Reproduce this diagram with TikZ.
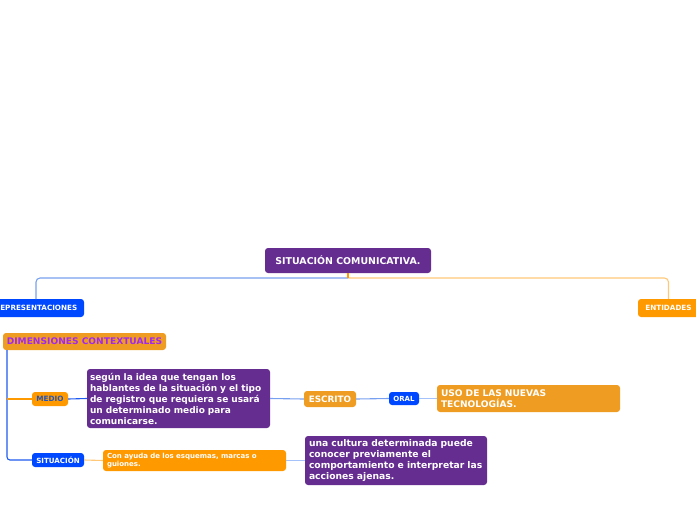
\documentclass[tikz,border=0pt]{standalone}
\usepackage{fontspec}
\setmainfont{DejaVu Sans}
\definecolor{cpurple}{RGB}{102,45,145}
\definecolor{corangeA}{RGB}{238,157,34}
\definecolor{corangeB}{RGB}{255,153,0}
\definecolor{cblue}{RGB}{0,72,255}
\definecolor{cdimtext}{RGB}{160,40,240}
\definecolor{cmediotext}{RGB}{34,85,187}
\definecolor{lblue}{RGB}{120,160,240}
\definecolor{sblue}{RGB}{30,90,240}
\definecolor{xlblue}{RGB}{165,195,250}
\definecolor{lorange}{RGB}{255,200,120}
\begin{document}
\begin{tikzpicture}[x=1pt,y=-1pt,
  box/.style={rounded corners=3pt, inner sep=0pt, text=white, font=\bfseries},
  para/.style={box, align=left},
  conn/.style={line width=1.1pt}
]
\useasboundingbox (0,0) rectangle (696,520);
% nodes
\node[box, fill=cpurple, minimum width=166pt, minimum height=25pt, font=\bfseries\fontsize{9.4}{11}\selectfont] (root) at (348,260.5) {SITUACIÓN COMUNICATIVA.};
\node[box, fill=cblue, minimum width=96pt, minimum height=18pt, font=\bfseries\fontsize{7.2}{8}\selectfont] (rep) at (36,308) {REPRESENTACIONES};
\node[box, fill=corangeB, minimum width=61pt, minimum height=18pt, font=\bfseries\fontsize{7.2}{8}\selectfont] (ent) at (668.5,308) {ENTIDADES};
\node[box, fill=corangeA, text=cdimtext, minimum width=163pt, minimum height=17pt, font=\bfseries\fontsize{9.1}{10}\selectfont] (dim) at (84.5,341.5) {DIMENSIONES CONTEXTUALES};
\node[box, fill=corangeB, text=cmediotext, minimum width=36pt, minimum height=14pt, font=\bfseries\fontsize{7.3}{8}\selectfont] (medio) at (50,399) {MEDIO};
\node[para, fill=cpurple, minimum width=183pt, minimum height=59pt, text width=177pt, font=\bfseries\fontsize{9}{11}\selectfont] (p1) at (178.5,398.5) {según la idea que tengan los\\hablantes de la situación y el tipo\\de registro que requiera se usará\\un determinado medio para\\comunicarse.};
\node[box, fill=corangeA, minimum width=52pt, minimum height=16pt, font=\bfseries\fontsize{8.8}{10}\selectfont] (esc) at (330,399) {ESCRITO};
\node[box, fill=cblue, minimum width=30pt, minimum height=13pt, font=\bfseries\fontsize{7}{8}\selectfont] (oral) at (404,398.5) {ORAL};
\node[para, fill=corangeA, minimum width=183pt, minimum height=27pt, text width=175pt, font=\bfseries\fontsize{9.1}{10.5}\selectfont] (uso) at (528.5,398.5) {USO DE LAS NUEVAS\\TECNOLOGÍAS.};
\node[box, fill=cblue, minimum width=52pt, minimum height=14pt, font=\bfseries\fontsize{7.1}{8}\selectfont] (sit) at (58,460) {SITUACIÓN};
\node[para, fill=corangeB, minimum width=183pt, minimum height=21pt, text width=175pt, font=\bfseries\fontsize{7}{8.5}\selectfont] (con) at (194.5,460.5) {Con ayuda de los esquemas, marcas o\\guiones.};
\node[para, fill=cpurple, minimum width=182pt, minimum height=49pt, text width=174pt, font=\bfseries\fontsize{9.2}{11}\selectfont] (p2) at (396,460.5) {una cultura determinada puede\\conocer previamente el\\comportamiento e interpretar las\\acciones ajenas.};
% helper coordinates
\coordinate (j) at (348,278);
\coordinate (v) at (7,350);
\coordinate (rl) at (36,299);
% connectors
\draw[conn, lblue, rounded corners=4pt] (j) -| (rl);
\draw[conn, lorange, rounded corners=4pt] (j) -| (ent.north);
\draw[conn, corangeB] (root.south) -- (j);
\draw[conn, sblue, rounded corners=3pt] (v) |- (sit.west);
\draw[conn, corangeB] (v |- medio.west) -- (medio.west);
\draw[conn, sblue] (medio.east) -- (p1.west);
\draw[conn, lblue] (p1.east) -- (esc.west);
\draw[conn, lblue] (esc.east) -- (oral.west);
\draw[conn, xlblue] (oral.east) -- (uso.west);
\draw[conn, lorange] (sit.east) -- (con.west);
\draw[conn, xlblue] (con.east) -- (p2.west);
\end{tikzpicture}
\end{document}
